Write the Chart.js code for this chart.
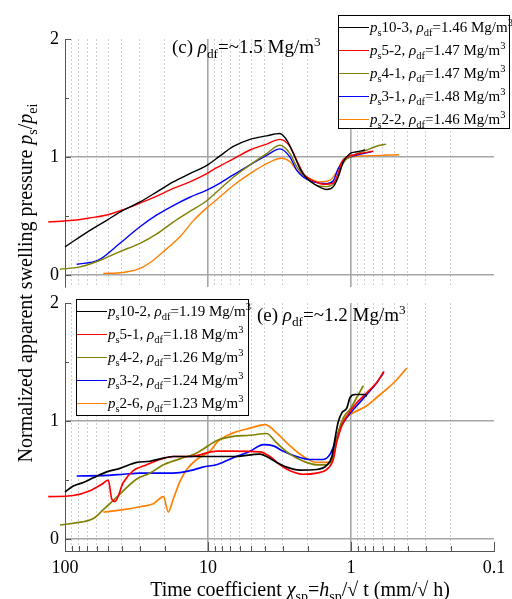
<!DOCTYPE html>
<html><head><meta charset="utf-8">
<script src="https://cdn.jsdelivr.net/npm/chart.js@4/dist/chart.umd.min.js"></script>
<style>
body{margin:0;background:#fff;}
#wrap{position:relative;width:512px;height:599px;overflow:hidden;font-family:'Liberation Serif','Times New Roman',serif;color:#000;background:#fff;}
canvas{position:absolute;left:0;}
#cTop{top:0;}
#cBot{top:295px;}
.ttl{position:absolute;font-size:19px;white-space:nowrap;line-height:1;}
.leg{position:absolute;border:1px solid #000;background:#fff;font-size:15px;box-sizing:border-box;}
.row{position:absolute;left:0;height:20px;white-space:nowrap;line-height:20px;}
.ln{position:absolute;left:0;width:30px;top:10px;border-top:1.6px solid;}
.tx{position:absolute;left:31px;top:0;}
sub{font-size:70%;vertical-align:-0.35em;line-height:0;}
sup{font-size:70%;vertical-align:0.55em;line-height:0;}
#ytitle{position:absolute;width:500px;left:-225px;top:271px;text-align:center;font-size:20px;line-height:24px;white-space:nowrap;transform:rotate(-90deg);}
#xtitle{position:absolute;left:0;width:600px;top:578px;text-align:center;font-size:20px;line-height:22px;white-space:nowrap;}
</style>
</head><body>
<div id="wrap">
<canvas id="cTop" width="512" height="295"></canvas>
<canvas id="cBot" width="512" height="304"></canvas>
<div class="ttl" style="left:172px;top:37px;">(c) <i>ρ</i><sub>df</sub>=~1.5 Mg/m<sup>3</sup></div>
<div class="ttl" style="left:257px;top:305px;">(e) <i>ρ</i><sub>df</sub>=~1.2 Mg/m<sup>3</sup></div>
<div id="legTop" class="leg" style="left:338px;top:15px;width:172px;height:114px;"></div>
<div id="legBot" class="leg" style="left:76px;top:299px;width:173px;height:117px;"></div>
<div id="ytitle">Normalized apparent swelling pressure <i>p</i><sub>s</sub>/<i>p</i><sub>ei</sub></div>
<div id="xtitle">Time coefficient <i>χ</i><sub>sp</sub>=<i>h</i><sub>sp</sub>/√<span style="text-decoration:overline">&nbsp;</span>t (mm/√<span style="text-decoration:overline">&nbsp;</span>h)</div>
</div>
<script>
// ---------- data: panel (c) rho_df ~1.5 ----------
const cBlackX  = [100, 66.9, 51.1, 39.1, 29.9, 22.8, 17.5, 13.4, 10.2, 8.24, 6.65, 5.08, 3.89, 3.14, 2.82, 2.53, 2.27, 2.04, 1.74, 1.48, 1.33, 1.23, 1.13, 1.016, 0.912, 0.798];
const cBlackY  = [0.24, 0.38, 0.465, 0.55, 0.62, 0.705, 0.79, 0.86, 0.93, 1.01, 1.09, 1.15, 1.18, 1.20, 1.145, 1.03, 0.90, 0.82, 0.76, 0.725, 0.75, 0.83, 0.96, 1.03, 1.045, 1.06];
const cRedX    = [130.9, 87.5, 66.9, 51.1, 39.1, 29.9, 22.8, 17.5, 13.4, 10.2, 8.69, 6.65, 5.08, 3.89, 3.14, 2.67, 2.40, 2.15, 1.84, 1.56, 1.33, 1.23, 1.16, 1.07, 0.865, 0.698];
const cRedY    = [0.45, 0.465, 0.485, 0.51, 0.555, 0.61, 0.67, 0.735, 0.79, 0.86, 0.91, 0.985, 1.06, 1.11, 1.15, 1.09, 0.975, 0.86, 0.80, 0.77, 0.78, 0.86, 0.96, 1.0, 1.03, 1.05];
const cOliveX  = [108.4, 78.5, 58.5, 41.3, 29.9, 22.8, 17.5, 13.4, 10.2, 8.24, 6.65, 5.08, 3.89, 3.14, 2.67, 2.40, 2.04, 1.74, 1.48, 1.29, 1.19, 1.10, 0.964, 0.776, 0.627, 0.569];
const cOliveY  = [0.05, 0.07, 0.12, 0.20, 0.27, 0.35, 0.45, 0.54, 0.63, 0.73, 0.83, 0.935, 1.03, 1.10, 1.03, 0.92, 0.82, 0.76, 0.75, 0.79, 0.90, 0.97, 1.015, 1.06, 1.10, 1.11];
const cBlueX   = [82.8, 58.5, 41.3, 29.9, 22.8, 17.5, 13.4, 10.2, 8.24, 6.65, 5.08, 3.89, 3.14, 2.67, 2.40, 2.15, 1.84, 1.48, 1.33, 1.23, 1.13, 1.016, 0.82, 0.72];
const cBlueY   = [0.093, 0.127, 0.27, 0.41, 0.51, 0.59, 0.66, 0.72, 0.78, 0.85, 0.935, 1.015, 1.07, 1.0, 0.89, 0.83, 0.79, 0.775, 0.80, 0.90, 0.97, 1.0, 1.03, 1.045];
const cOrangeX = [54.0, 39.1, 29.9, 24.1, 19.4, 15.7, 12.7, 10.2, 8.5, 6.65, 5.08, 3.89, 3.05, 2.67, 2.40, 2.04, 1.65, 1.40, 1.26, 1.16, 1.04, 0.8, 0.6, 0.462];
const cOrangeY = [0.014, 0.023, 0.057, 0.127, 0.225, 0.325, 0.46, 0.57, 0.65, 0.76, 0.86, 0.945, 0.99, 0.96, 0.89, 0.83, 0.79, 0.805, 0.875, 0.96, 1.0, 1.01, 1.015, 1.02];

// ---------- data: panel (e) rho_df ~1.2 ----------
const eBlackX  = [100, 87.5, 74.5, 63.4, 51.1, 41.3, 31.5, 25.4, 21.7, 17.5, 13.4, 8.24, 6.65, 4.33, 3.89, 3.31, 2.82, 2.27, 1.74, 1.48, 1.36, 1.29, 1.23, 1.16, 1.07, 1.016, 0.938, 0.798, 0.776];
const eBlackY  = [0.40, 0.45, 0.48, 0.52, 0.57, 0.60, 0.65, 0.66, 0.68, 0.70, 0.70, 0.70, 0.70, 0.72, 0.70, 0.65, 0.61, 0.585, 0.59, 0.625, 0.70, 0.86, 0.99, 1.07, 1.11, 1.20, 1.225, 1.225, 1.21];
const eRedX    = [130.9, 87.5, 66.9, 55.4, 49.8, 47.1, 44.7, 39.1, 33.3, 26.8, 21.7, 17.5, 13.4, 8.69, 6.65, 4.33, 3.68, 3.14, 2.67, 2.15, 1.74, 1.48, 1.33, 1.26, 1.16, 1.07, 0.912, 0.776, 0.661, 0.587];
const eRedY    = [0.36, 0.37, 0.41, 0.465, 0.50, 0.34, 0.32, 0.48, 0.58, 0.63, 0.675, 0.70, 0.70, 0.745, 0.745, 0.74, 0.70, 0.63, 0.58, 0.55, 0.56, 0.59, 0.675, 0.82, 0.96, 1.04, 1.155, 1.24, 1.325, 1.42];
const eOliveX  = [108.4, 87.5, 63.4, 54.0, 47.1, 39.1, 31.5, 25.4, 20.5, 15.7, 12.0, 8.5, 6.65, 5.08, 3.89, 3.31, 2.67, 2.15, 1.74, 1.48, 1.33, 1.23, 1.13, 1.016, 0.912, 0.82];
const eOliveY  = [0.12, 0.135, 0.175, 0.25, 0.315, 0.41, 0.51, 0.56, 0.63, 0.68, 0.73, 0.84, 0.87, 0.88, 0.895, 0.815, 0.72, 0.66, 0.63, 0.63, 0.70, 0.90, 1.03, 1.10, 1.20, 1.30];
const eBlueX   = [82.8, 51.1, 39.1, 29.9, 22.8, 17.5, 13.4, 10.9, 8.5, 6.65, 5.08, 4.10, 3.49, 2.97, 2.40, 1.94, 1.56, 1.40, 1.29, 1.19, 1.07, 0.912, 0.776, 0.661, 0.594];
const eBlueY   = [0.535, 0.54, 0.55, 0.56, 0.56, 0.56, 0.58, 0.61, 0.635, 0.69, 0.745, 0.80, 0.79, 0.745, 0.70, 0.675, 0.675, 0.72, 0.82, 0.94, 1.03, 1.13, 1.225, 1.325, 1.41];
const eOrangeX = [54.0, 39.1, 29.9, 24.1, 20.5, 18.95, 17.5, 15.7, 14.1, 12.0, 9.68, 8.5, 6.65, 5.08, 3.99, 3.31, 2.67, 2.15, 1.74, 1.44, 1.33, 1.23, 1.13, 0.964, 0.776, 0.661, 0.563, 0.479, 0.408];
const eOrangeY = [0.23, 0.25, 0.275, 0.30, 0.36, 0.23, 0.34, 0.49, 0.59, 0.675, 0.745, 0.83, 0.90, 0.94, 0.97, 0.90, 0.79, 0.70, 0.65, 0.65, 0.72, 0.90, 1.01, 1.07, 1.13, 1.20, 1.27, 1.35, 1.45];

// ---------- labels ----------
const seriesColors = ['#000000', '#FF0000', '#808000', '#0000FF', '#FF8000'];
const cSpecimens = ['10-3', '5-2', '4-1', '3-1', '2-2'];
const cDensities = ['1.46', '1.47', '1.47', '1.48', '1.46'];
const eSpecimens = ['10-2', '5-1', '4-2', '3-2', '2-6'];
const eDensities = ['1.19', '1.18', '1.26', '1.24', '1.23'];
const xMajorTicks = [100, 10, 1, 0.1];
const yTicks = [0, 0.5, 1, 1.5, 2];

const xTickVals = [];
[0.1, 1, 10].forEach(d => { for (let k = 1; k <= 9; k++) xTickVals.push(Number((k * d).toPrecision(3))); });
xTickVals.push(100);

function legend(el, specs, dens) {
  specs.forEach((s, i) => {
    const r = document.createElement('div');
    r.className = 'row';
    r.style.top = (0.5 + i * 23.2) + 'px';
    r.innerHTML = '<span class="ln" style="border-color:' + seriesColors[i] + '"></span>' +
      '<span class="tx"><i>p</i><sub>s</sub>' + s + ', <i>ρ</i><sub>df</sub>=' + dens[i] + ' Mg/m<sup>3</sup></span>';
    el.appendChild(r);
  });
}
legend(document.getElementById('legTop'), cSpecimens, cDensities);
legend(document.getElementById('legBot'), eSpecimens, eDensities);

const inwardTicks = {
  id: 'inwardTicks',
  afterDraw(chart, args, opts) {
    const ctx = chart.ctx, ca = chart.chartArea;
    ctx.save();
    ctx.strokeStyle = '#555';
    ctx.lineWidth = 1;
    const ys = chart.scales.y;
    yTicks.forEach(v => {
      const py = Math.round(ys.getPixelForValue(v)) + 0.5;
      const len = Number.isInteger(v) ? 6 : 4;
      ctx.beginPath(); ctx.moveTo(ca.left, py); ctx.lineTo(ca.left + len, py); ctx.stroke();
    });
    if (opts.x) {
      const xs = chart.scales.x;
      xTickVals.forEach(v => {
        const px = Math.round(xs.getPixelForValue(v)) + 0.5;
        const len = xMajorTicks.includes(v) ? 9 : 5;
        ctx.beginPath(); ctx.moveTo(px, ca.bottom); ctx.lineTo(px, ca.bottom - len); ctx.stroke();
      });
    }
    ctx.restore();
  }
};

const font = { family: "'Liberation Serif', 'Times New Roman', serif", size: 18 };

function makeChart(id, sets, isBottom) {
  return new Chart(document.getElementById(id), {
    type: 'line',
    data: {
      datasets: sets.map((s, i) => ({
        data: s[0].map((v, j) => ({ x: v, y: s[1][j] })),
        borderColor: seriesColors[i],
        borderWidth: isBottom ? 1.7 : 1.4,
        pointRadius: 0,
        fill: false,
        cubicInterpolationMode: 'monotone',
        clip: false
      }))
    },
    options: {
      responsive: false, animation: false, events: [],
      layout: { padding: { left: 0, right: 18, top: isBottom ? 8 : 39, bottom: 0 } },
      plugins: { legend: { display: false }, tooltip: { enabled: false }, inwardTicks: { x: isBottom } },
      scales: {
        x: {
          type: 'logarithmic', reverse: true, min: 0.1, max: 100,
          afterBuildTicks: s => { s.ticks = xTickVals.map(v => ({ value: v })); },
          afterFit: s => { s.height = isBottom ? 48 : 8; s.paddingLeft = 0; s.paddingRight = 0; },
          ticks: {
            display: isBottom, autoSkip: false, maxRotation: 0, minRotation: 0, padding: 6,
            font: font, color: '#000',
            callback: v => xMajorTicks.includes(v) ? String(v) : ''
          },
          grid: {
            drawTicks: false,
            color: c => {
              const v = c.tick ? c.tick.value : null;
              if (v === 100 || v === 0.1) return 'rgba(0,0,0,0)';
              return (v === 10 || v === 1) ? '#a6a6a6' : '#cfcfcf';
            },
            lineWidth: c => (c.tick && (c.tick.value === 10 || c.tick.value === 1)) ? 1.6 : 1
          },
          border: {
            display: isBottom, color: '#555', width: 1,
            dash: c => (c.tick && [100, 10, 1, 0.1].includes(c.tick.value)) ? [] : [2, 2]
          }
        },
        y: {
          min: -0.1, max: 2,
          afterBuildTicks: s => { s.ticks = yTicks.map(v => ({ value: v })); },
          afterFit: s => { s.width = 65; s.paddingTop = 0; s.paddingBottom = 0; },
          ticks: { padding: 6, font: font, color: '#000', callback: v => Number.isInteger(v) ? String(v) : '' },
          grid: {
            drawTicks: false,
            color: c => (c.tick && (c.tick.value === 0 || c.tick.value === 1)) ? '#a6a6a6' : 'rgba(0,0,0,0)',
            lineWidth: 1.6
          },
          border: { display: true, color: '#555', width: 1 }
        }
      }
    },
    plugins: [inwardTicks]
  });
}

makeChart('cTop', [[cBlackX, cBlackY], [cRedX, cRedY], [cOliveX, cOliveY], [cBlueX, cBlueY], [cOrangeX, cOrangeY]], false);
makeChart('cBot', [[eBlackX, eBlackY], [eRedX, eRedY], [eOliveX, eOliveY], [eBlueX, eBlueY], [eOrangeX, eOrangeY]], true);
</script>
</body></html>
